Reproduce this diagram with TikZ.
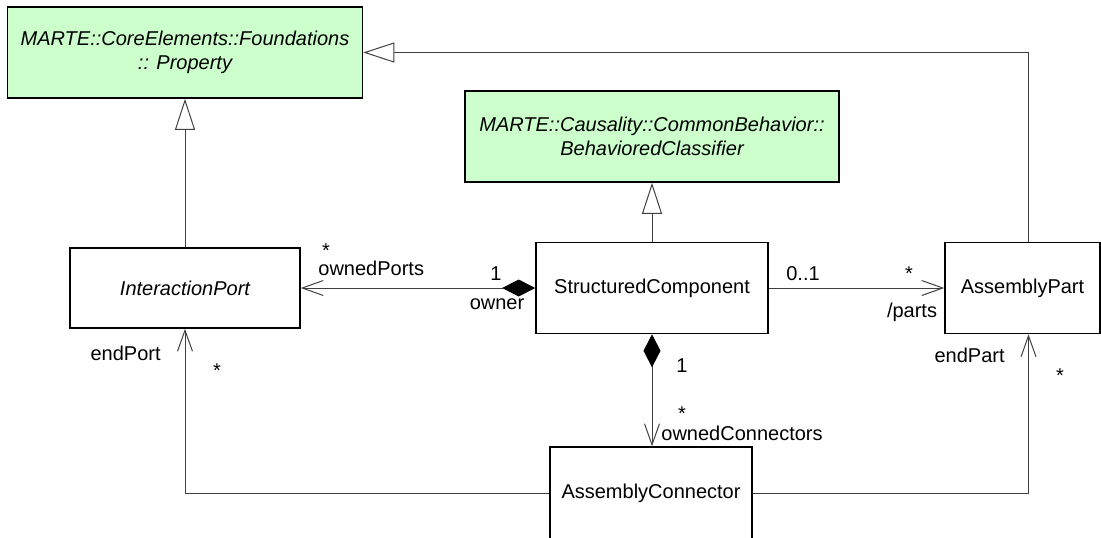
\documentclass[tikz,border=0pt]{standalone}
\usepackage{fontspec}
\setmainfont{Liberation Sans}
\usetikzlibrary{arrows.meta, positioning, calc}
\definecolor{umlgreen}{RGB}{204,255,204}

\begin{document}
\begin{tikzpicture}[x=0.5pt, y=-0.5pt,
    font=\fontsize{10}{12}\selectfont,
    cls/.style={draw=black, line width=0.8pt, fill=white, align=center, inner sep=0pt},
    ext/.style={cls, fill=umlgreen, font=\fontsize{10}{12}\selectfont\itshape},
    assoc/.style={draw=black!75, line width=0.5pt},
    gen/.style={assoc, -{Triangle[open, length=15.5pt, width=10pt, fill=white]}},
    nav/.style={assoc, -{Straight Barb[length=10.5pt, width=7.5pt]}},
    owned/.style={assoc, {Diamond[length=16.5pt, width=8.5pt, color=black]}-{Straight Barb[length=10.5pt, width=7.5pt]}},
    lbl/.style={inner sep=0pt, anchor=base}]
        \useasboundingbox (0,0) rectangle (1101,537);

        % classes
        \node[ext, minimum width=177.5pt, minimum height=45.5pt] (prop) at (185,52.5)
            {MARTE::CoreElements::Foundations\\:: Property};
        \node[ext, minimum width=187pt, minimum height=45.5pt] (behav) at (652,136.5)
            {MARTE::Causality::CommonBehavior::\\BehavioredClassifier};
        \node[cls, minimum width=115pt, minimum height=40pt, font=\fontsize{10}{12}\selectfont\itshape] (port) at (185,288) {InteractionPort};
        \node[cls, minimum width=116pt, minimum height=45.5pt] (comp) at (652,288) {StructuredComponent};
        \node[cls, minimum width=77.5pt, minimum height=45.5pt] (part) at (1022.5,288) {AssemblyPart};
        \node[cls, minimum width=101pt, minimum height=46pt] (conn) at (651,493) {AssemblyConnector};

        % generalizations
        \draw[gen] ([xshift=3pt]part.north) |- (prop.east);
        \draw[gen] (port.north) -- (prop.south);
        \draw[gen] (comp.north) -- (behav.south);

        % associations
        \draw[owned] (comp.west) -- (port.east);
        \draw[nav] (comp.east) -- (part.west);
        \draw[owned] (comp.south) -- (comp.south |- conn.north);
        \draw[nav] (conn.west) -| (port.south);
        \draw[nav] (conn.east) -| ([xshift=3pt]part.south);

        % ends
        \node[lbl] (portsstar) at (326,257) {*};
        \node[lbl, anchor=base west] (portsrole) at (318,275) {ownedPorts};
        \node[lbl] (ownermult) at (496,280) {1};
        \node[lbl] (ownerrole) at (497,309) {owner};
        \node[lbl] (partsmult) at (803,280) {0..1};
        \node[lbl] (partsstar) at (909,280) {*};
        \node[lbl] (partsrole) at (912,317) {/parts};
        \node[lbl, anchor=base east] (endportrole) at (161,360) {endPort};
        \node[lbl] (endportstar) at (217,377) {*};
        \node[lbl] (connmult) at (682,372) {1};
        \node[lbl] (connstar) at (682,420) {*};
        \node[lbl, anchor=base west] (connrole) at (661,440) {ownedConnectors};
        \node[lbl, anchor=base east] (endpartrole) at (1005,362) {endPart};
        \node[lbl] (endpartstar) at (1060,382) {*};
    \end{tikzpicture}
\end{document}
